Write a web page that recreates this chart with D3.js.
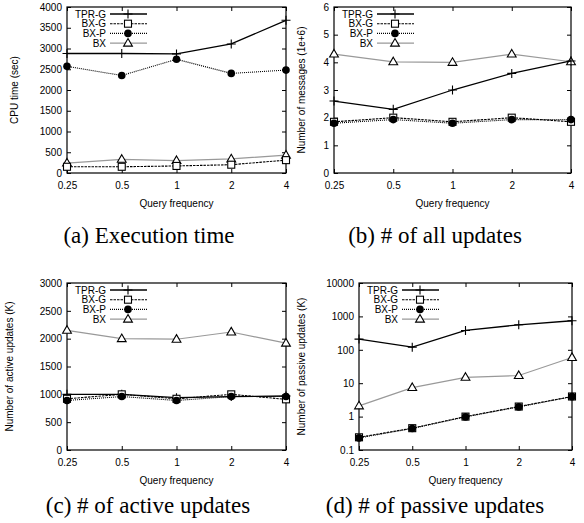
<!DOCTYPE html>
<html>
<head>
<meta charset="utf-8">
<script src="https://cdn.jsdelivr.net/npm/d3@7"></script>
<style>
    body { margin: 0; background: #fff; }
    svg { display: block; }
    .tick text, .legend text, .axis-title { font-family: "Liberation Sans", Arial, sans-serif; font-size: 10px; fill: #000; }
    .caption { font-family: "Liberation Serif", "Times New Roman", serif; font-size: 23px; fill: #000; }
</style>
</head>
<body>
<div id="chart"></div>
<script>

// query frequencies (x categories)
let freqLabels = ["0.25", "0.5", "1", "2", "4"];
let seriesNames = ["TPR-G", "BX-G", "BX-P", "BX"];

// (a) execution time, CPU sec
let cpuTPRG = [2880, 2880, 2870, 3110, 3680];
let cpuBXG  = [150, 150, 170, 200, 310];
let cpuBXP  = [2570, 2350, 2740, 2400, 2480];
let cpuBX   = [240, 330, 300, 340, 430];

// (b) number of messages, 1e+6
let msgTPRG = [2.6, 2.3, 3.0, 3.6, 4.05];
let msgBXG  = [1.85, 2.0, 1.85, 2.0, 1.85];
let msgBXP  = [1.8, 1.93, 1.8, 1.93, 1.93];
let msgBX   = [4.3, 4.02, 4.0, 4.3, 4.02];

// (c) active updates, K
let actTPRG = [1000, 1000, 940, 960, 970];
let actBXG  = [920, 1000, 920, 1000, 910];
let actBXP  = [890, 960, 890, 960, 960];
let actBX   = [2150, 2000, 1990, 2120, 1920];

// (d) passive updates, K (log scale)
let pasTPRG = [209, 120, 380, 560, 740];
let pasBXG  = [0.24, 0.45, 1.0, 2.0, 4.0];
let pasBXP  = [0.23, 0.44, 0.98, 1.95, 3.95];
let pasBX   = [2.1, 7.4, 15, 17, 59];

let yTicksA = [0, 500, 1000, 1500, 2000, 2500, 3000, 3500, 4000];
let yTicksB = [0, 1, 2, 3, 4, 5, 6];
let yTicksC = [0, 500, 1000, 1500, 2000, 2500, 3000];
let yTicksD = [0.1, 1, 10, 100, 1000, 10000];


class LineVis {

    constructor(svg, config){
        this.svg = svg;
        this.config = config;
        this.initVis();
    }

    initVis(){
        let vis = this;
        let c = vis.config;

        vis.g = vis.svg.append("g");

        vis.x = d3.scalePoint()
            .domain(freqLabels)
            .range([c.left, c.right]);

        vis.y = (c.log ? d3.scaleLog() : d3.scaleLinear())
            .domain(c.yDomain)
            .range([c.bottom, c.top]);

        // axes, gnuplot style: ticks pointing inward on every side
        vis.g.append("g")
            .attr("transform", `translate(0, ${c.bottom})`)
            .call(d3.axisBottom(vis.x).tickSizeInner(-4).tickSizeOuter(0).tickPadding(9));
        vis.g.append("g")
            .attr("transform", `translate(0, ${c.top})`)
            .call(d3.axisTop(vis.x).tickSizeInner(-4).tickSizeOuter(0).tickFormat(""));
        vis.g.append("g")
            .attr("transform", `translate(${c.left}, 0)`)
            .call(d3.axisLeft(vis.y).tickValues(c.yTicks).tickFormat(d => d).tickSizeInner(-4).tickSizeOuter(0).tickPadding(5));
        vis.g.append("g")
            .attr("transform", `translate(${c.right}, 0)`)
            .call(d3.axisRight(vis.y).tickValues(c.yTicks).tickFormat("").tickSizeInner(-4).tickSizeOuter(0));

        vis.g.selectAll(".domain").remove();
        vis.g.selectAll(".tick line").attr("stroke", "#000");

        vis.g.append("rect")
            .attr("x", c.left)
            .attr("y", c.top)
            .attr("width", c.right - c.left)
            .attr("height", c.bottom - c.top)
            .attr("fill", "none")
            .attr("stroke", "#000")
            .attr("stroke-width", 1.2);

        // titles
        vis.g.append("text")
            .attr("class", "axis-title")
            .attr("text-anchor", "middle")
            .attr("transform", `translate(${c.yTitleX}, ${(c.top + c.bottom) / 2}) rotate(-90)`)
            .text(c.yTitle);

        vis.g.append("text")
            .attr("class", "axis-title")
            .attr("text-anchor", "middle")
            .attr("x", (c.left + c.right) / 2)
            .attr("y", c.bottom + 34)
            .text("Query frequency");

        vis.g.append("text")
            .attr("class", "caption")
            .attr("text-anchor", "middle")
            .attr("x", c.captionX)
            .attr("y", c.captionY)
            .text(c.caption);

        vis.drawSeries();
        vis.drawLegend();
    }

    drawSeries(){
        let vis = this;
        let line = d3.line()
            .x((d, i) => vis.x(freqLabels[i]))
            .y(d => vis.y(d));

        // draw order: BX (grey) first, then the black ones on top
        [3, 0, 1, 2].forEach(k => {
            let s = styles[k];
            let values = vis.config.values[k];
            vis.g.append("path")
                .attr("d", line(values))
                .attr("fill", "none")
                .attr("stroke", s.color)
                .attr("stroke-width", s.width)
                .attr("stroke-dasharray", s.dash);

            values.forEach((v, i) => {
                drawMarker(vis.g, s.marker, vis.x(freqLabels[i]), vis.y(v));
            });
        });
    }

    drawLegend(){
        let vis = this;
        let c = vis.config;
        let leg = vis.g.append("g").attr("class", "legend");

        seriesNames.forEach((name, k) => {
            let s = styles[k];
            let yy = c.top + 7 + k * 9.7;
            leg.append("text")
                .attr("x", c.left + 39)
                .attr("y", yy + 3.5)
                .attr("text-anchor", "end")
                .text(name);
            leg.append("line")
                .attr("x1", c.left + 43)
                .attr("x2", c.left + 80)
                .attr("y1", yy)
                .attr("y2", yy)
                .attr("stroke", s.color)
                .attr("stroke-width", s.width)
                .attr("stroke-dasharray", s.dash);
            drawMarker(leg, s.marker, c.left + 61, yy);
        });
    }
}

let styles = [
    {color: "#000", width: 1.3, dash: null, marker: "plus"},
    {color: "#000", width: 1.1, dash: "2.5,1", marker: "square"},
    {color: "#000", width: 1.1, dash: "1,1", marker: "circle"},
    {color: "#999", width: 1.2, dash: null, marker: "triangle"}
];

function drawMarker(g, type, x, y){
    if (type === "plus") {
        g.append("path")
            .attr("d", `M${x - 4.5},${y}H${x + 4.5}M${x},${y - 4.5}V${y + 4.5}`)
            .attr("stroke", "#000")
            .attr("stroke-width", 1.1);
    } else if (type === "square") {
        g.append("rect")
            .attr("x", x - 3.5).attr("y", y - 3.5)
            .attr("width", 7).attr("height", 7)
            .attr("fill", "#fff")
            .attr("stroke", "#000")
            .attr("stroke-width", 1.1);
    } else if (type === "circle") {
        g.append("circle")
            .attr("cx", x).attr("cy", y).attr("r", 3.8)
            .attr("fill", "#000");
    } else {
        g.append("path")
            .attr("d", `M${x},${y - 4.6}L${x + 4.4},${y + 3}L${x - 4.4},${y + 3}Z`)
            .attr("fill", "#fff")
            .attr("stroke", "#000")
            .attr("stroke-width", 1.1);
    }
}

let svg = d3.select("#chart").append("svg")
    .attr("width", 584)
    .attr("height", 523);

svg.append("rect").attr("width", 584).attr("height", 523).attr("fill", "#fff");

new LineVis(svg, {
    left: 67, right: 286, top: 7, bottom: 173,
    yDomain: [0, 4000], yTicks: yTicksA, yTitle: "CPU time (sec)", yTitleX: 18,
    caption: "(a) Execution time", captionX: 149, captionY: 243,
    values: [cpuTPRG, cpuBXG, cpuBXP, cpuBX]
});

new LineVis(svg, {
    left: 334, right: 571, top: 7, bottom: 173,
    yDomain: [0, 6], yTicks: yTicksB, yTitle: "Number of messages (1e+6)", yTitleX: 305,
    caption: "(b) # of all updates", captionX: 435, captionY: 243,
    values: [msgTPRG, msgBXG, msgBXP, msgBX]
});

new LineVis(svg, {
    left: 67, right: 286, top: 283, bottom: 450,
    yDomain: [0, 3000], yTicks: yTicksC, yTitle: "Number of active updates (K)", yTitleX: 13,
    caption: "(c) # of active updates", captionX: 148, captionY: 513,
    values: [actTPRG, actBXG, actBXP, actBX]
});

new LineVis(svg, {
    left: 359, right: 572, top: 283, bottom: 450, log: true,
    yDomain: [0.1, 10000], yTicks: yTicksD, yTitle: "Number of passive updates (K)", yTitleX: 305,
    caption: "(d) # of passive updates", captionX: 435, captionY: 513,
    values: [pasTPRG, pasBXG, pasBXP, pasBX]
});

</script>
</body>
</html>
